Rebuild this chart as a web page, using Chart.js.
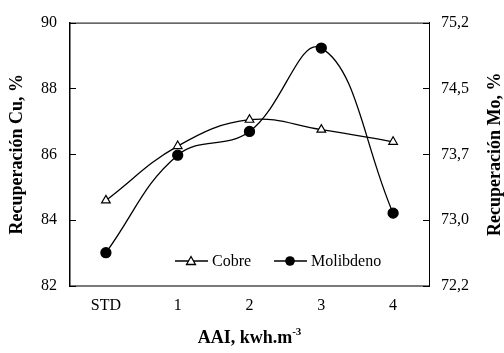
<!DOCTYPE html>
<html>
<head>
<meta charset="utf-8">
<script src="https://cdn.jsdelivr.net/npm/chart.js@4"></script>
<style>
  html, body { margin: 0; padding: 0; background: #fff; }
  #wrap { width: 504px; height: 353px; }
</style>
</head>
<body>
<div id="wrap"><canvas id="diagramm" width="504" height="353"></canvas></div>
<script>
const categories = ["STD", "1", "2", "3", "4"];
const cobre = [84.6, 86.25, 87.05, 86.75, 86.38];
const molibdeno = [72.58, 73.69, 73.96, 74.91, 73.03];

const leftTicks = [82, 84, 86, 88, 90];
const rightTicks = [72.2, 72.95, 73.7, 74.45, 75.2];
const rightTickLabels = ["72,2", "73,0", "73,7", "74,5", "75,2"];

const FONT = "'Liberation Serif', 'Times New Roman', serif";

// Rahmen, nach innen zeigende Ticks, Legende und Achsentitel
const extras = {
    id: 'extras',
    afterDraw(chart) {
        const ctx = chart.ctx;
        const a = chart.chartArea;
        ctx.save();
        ctx.strokeStyle = '#000';
        ctx.lineWidth = 1;
        ctx.beginPath();
        ctx.moveTo(a.left, a.top + 0.5);
        ctx.lineTo(a.right, a.top + 0.5);
        ctx.stroke();

        // Ticks links und rechts
        chart.scales.y.ticks.forEach(t => {
            const y = Math.round(chart.scales.y.getPixelForValue(t.value)) + 0.5;
            ctx.beginPath();
            ctx.moveTo(a.left, y);
            ctx.lineTo(a.left + 6, y);
            ctx.stroke();
        });
        chart.scales.y1.ticks.forEach(t => {
            const y = Math.round(chart.scales.y1.getPixelForValue(t.value)) + 0.5;
            ctx.beginPath();
            ctx.moveTo(a.right, y);
            ctx.lineTo(a.right - 6, y);
            ctx.stroke();
        });

        // Legende
        const ly = 261;
        const items = [
            { x: 175, label: 'Cobre', ds: 0 },
            { x: 274, label: 'Molibdeno', ds: 1 }
        ];
        ctx.font = '16px ' + FONT;
        ctx.textBaseline = 'middle';
        items.forEach(it => {
            ctx.strokeStyle = '#000';
            ctx.lineWidth = 1.3;
            ctx.beginPath();
            ctx.moveTo(it.x, ly);
            ctx.lineTo(it.x + 33, ly);
            ctx.stroke();
            const cx = it.x + 16;
            if (it.ds === 0) {
                ctx.beginPath();
                ctx.moveTo(cx, ly - 4.5);
                ctx.lineTo(cx + 4.5, ly + 3.5);
                ctx.lineTo(cx - 4.5, ly + 3.5);
                ctx.closePath();
                ctx.fillStyle = '#fff';
                ctx.fill();
                ctx.stroke();
            } else {
                ctx.beginPath();
                ctx.arc(cx, ly, 4.8, 0, Math.PI * 2);
                ctx.fillStyle = '#000';
                ctx.fill();
            }
            ctx.fillStyle = '#000';
            ctx.textAlign = 'left';
            ctx.fillText(it.label, it.x + 37, ly + 1);
        });

        // y-Achsentitel (beide von unten nach oben)
        const midY = (a.top + a.bottom) / 2;
        ctx.font = 'bold 18px ' + FONT;
        ctx.textAlign = 'center';
        ctx.textBaseline = 'middle';
        [[17, 'Recuperación Cu, %'], [495, 'Recuperación Mo, %']].forEach(([x, txt]) => {
            ctx.save();
            ctx.translate(x, midY);
            ctx.rotate(-Math.PI / 2);
            ctx.fillText(txt, 0, 0);
            ctx.restore();
        });

        // x-Achsentitel mit Hochzahl
        ctx.font = 'bold 18px ' + FONT;
        const main = 'AAI, kwh.m';
        const w1 = ctx.measureText(main).width;
        ctx.font = 'bold 11px ' + FONT;
        const w2 = ctx.measureText('-3').width;
        const sx = (a.left + a.right) / 2 - (w1 + w2) / 2;
        ctx.textAlign = 'left';
        ctx.textBaseline = 'alphabetic';
        ctx.font = 'bold 18px ' + FONT;
        ctx.fillText(main, sx, 343);
        ctx.font = 'bold 11px ' + FONT;
        ctx.fillText('-3', sx + w1, 335);
        ctx.restore();
    }
};

new Chart(document.getElementById('diagramm').getContext('2d'), {
    type: 'line',
    data: {
        labels: categories,
        datasets: [
            {
                label: 'Cobre',
                data: cobre,
                yAxisID: 'y',
                borderColor: '#000',
                borderWidth: 1.3,
                backgroundColor: '#fff',
                pointStyle: 'triangle',
                pointRadius: 5,
                pointBorderWidth: 1.2,
                pointBackgroundColor: '#fff',
                pointBorderColor: '#000',
                tension: 0.4
            },
            {
                label: 'Molibdeno',
                data: molibdeno,
                yAxisID: 'y1',
                borderColor: '#000',
                borderWidth: 1.3,
                backgroundColor: '#000',
                pointStyle: 'circle',
                pointRadius: 5,
                pointBackgroundColor: '#000',
                pointBorderColor: '#000',
                tension: 0.4
            }
        ]
    },
    options: {
        responsive: false,
        animation: false,
        layout: { padding: { top: 12, left: 0, right: 0, bottom: 0 } },
        plugins: {
            legend: { display: false },
            tooltip: { enabled: false }
        },
        scales: {
            x: {
                offset: true,
                grid: { display: false, drawTicks: false },
                border: { display: true, color: '#7a7a7a', width: 2 },
                ticks: { color: '#000', font: { family: FONT, size: 16 }, padding: 10 },
                afterFit(scale) { scale.height = 67; }
            },
            y: {
                position: 'left',
                min: 82,
                max: 90,
                afterBuildTicks(scale) { scale.ticks = leftTicks.map(v => ({ value: v })); },
                grid: { display: false, drawTicks: false },
                border: { display: true, color: '#000', width: 1.5 },
                ticks: { color: '#000', font: { family: FONT, size: 16 }, padding: 13 },
                afterFit(scale) { scale.width = 70; }
            },
            y1: {
                position: 'right',
                min: 72.2,
                max: 75.2,
                afterBuildTicks(scale) { scale.ticks = rightTicks.map(v => ({ value: v })); },
                grid: { display: false, drawTicks: false },
                border: { display: true, color: '#000', width: 1 },
                ticks: {
                    color: '#000',
                    font: { family: FONT, size: 16 },
                    padding: 12,
                    callback: function(value, index) { return rightTickLabels[index]; }
                },
                afterFit(scale) { scale.width = 75; }
            }
        }
    },
    plugins: [extras]
});
</script>
</body>
</html>
